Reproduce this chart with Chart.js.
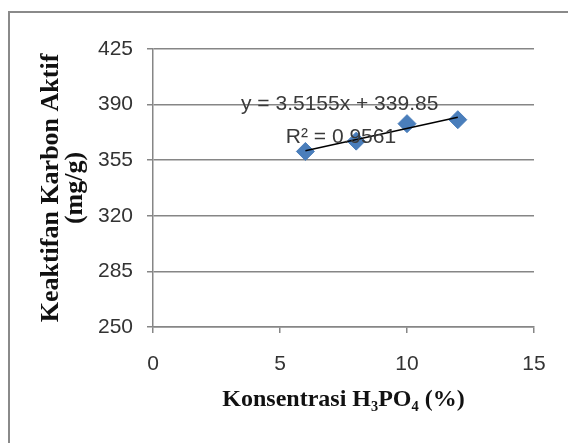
<!DOCTYPE html>
<html>
<head>
<meta charset="utf-8">
<script src="https://cdn.jsdelivr.net/npm/chart.js@4.4.1/dist/chart.umd.min.js"></script>
<style>
  html, body { margin: 0; padding: 0; background: #fff; }
  #wrap { position: relative; width: 568px; height: 443px; }
</style>
</head>
<body>
<div id="wrap"><canvas id="c" width="568" height="443"></canvas></div>
<script>
// ---- data ----
const concentration = [6, 8, 10, 12];          // % H3PO4
const activity = [360.5, 367, 378, 380.5];      // mg/g
const trendX = [6, 12];
const trendY = [360.9, 382.0];
const yTickValues = [250, 285, 320, 355, 390, 425];
const xTickValues = [0, 5, 10, 15];
const equationText = 'y = 3.5155x + 339.85';
const r2Text = 'R² = 0.9561';
const xTitle = 'Konsentrasi H₃PO₄ (%)';
const yTitle = ['Keaktifan Karbon Aktif', '(mg/g)'];

const tickFont = { family: 'Liberation Sans, Arial, sans-serif', size: 21 };

const framePlugin = {
  id: 'frame',
  beforeDraw(chart) {
    const ctx = chart.ctx;
    ctx.save();
    ctx.fillStyle = '#fff';
    ctx.fillRect(0, 0, chart.width, chart.height);
    ctx.strokeStyle = '#8a8a8a';
    ctx.lineWidth = 2;
    ctx.strokeRect(9, 12, chart.width + 20, chart.height + 20);
    ctx.restore();
  }
};

const labelPlugin = {
  id: 'eqLabels',
  afterDatasetsDraw(chart) {
    const ctx = chart.ctx;
    const xs = chart.scales.x, ys = chart.scales.y;
    ctx.save();
    ctx.fillStyle = '#3a3a3a';
    ctx.font = '21px Liberation Sans, Arial, sans-serif';
    ctx.textAlign = 'center';
    ctx.textBaseline = 'middle';
    ctx.fillText(equationText, xs.getPixelForValue(7.35), ys.getPixelForValue(390.5));
    ctx.fillText(r2Text, xs.getPixelForValue(7.4), ys.getPixelForValue(369.5));
    ctx.restore();
  }
};

new Chart(document.getElementById('c'), {
  type: 'scatter',
  data: {
    datasets: [
      {
        label: 'Trend',
        type: 'line',
        data: trendX.map((x, i) => ({ x, y: trendY[i] })),
        borderColor: '#000',
        borderWidth: 1.5,
        pointRadius: 0,
        fill: false
      },
      {
        label: 'Data',
        data: concentration.map((x, i) => ({ x, y: activity[i] })),
        pointStyle: 'rectRot',
        pointRadius: 9,
        pointHoverRadius: 9,
        backgroundColor: '#4a7ebb',
        borderColor: '#4a7ebb',
        borderWidth: 1
      }
    ]
  },
  options: {
    responsive: false,
    animation: false,
    events: [],
    layout: { padding: { left: 39, top: 49, right: 34, bottom: 29 } },
    plugins: { legend: { display: false }, tooltip: { enabled: false } },
    scales: {
      x: {
        type: 'linear',
        min: 0, max: 15,
        afterBuildTicks(s) { s.ticks = xTickValues.map(v => ({ value: v })); },
        afterFit(s) { s.height = 87; },
        grid: { drawOnChartArea: false, color: '#868686', tickLength: 6, lineWidth: 1.5 },
        border: { color: '#868686', width: 1.5 },
        ticks: { color: '#333', font: tickFont, padding: 19, maxRotation: 0 },
        title: { display: true, text: xTitle, color: '#111',
                 font: { family: 'Liberation Serif, Times New Roman, serif', size: 24, weight: 'bold', lineHeight: 1.2 },
                 padding: { top: 0, bottom: 0 } }
      },
      y: {
        type: 'linear',
        min: 250, max: 425,
        afterBuildTicks(s) { s.ticks = yTickValues.map(v => ({ value: v })); },
        afterFit(s) { s.width = 114; },
        grid: { color: '#868686', tickLength: 6, lineWidth: 1.5 },
        border: { color: '#868686', width: 1.5 },
        ticks: { color: '#333', font: tickFont, padding: 14 },
        title: { display: true, text: yTitle, color: '#111',
                 font: { family: 'Liberation Serif, Times New Roman, serif', size: 26, weight: 'bold', lineHeight: 0.92 },
                 padding: { top: 0, bottom: 0 } }
      }
    }
  },
  plugins: [framePlugin, labelPlugin]
});
</script>
</body>
</html>
